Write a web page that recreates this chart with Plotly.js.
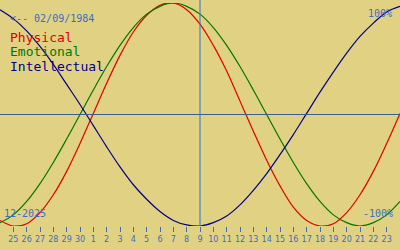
<!DOCTYPE html>
<html>
<head>
<meta charset="utf-8">
<script src="https://cdn.plot.ly/plotly-3.0.1.min.js"></script>
<style>
html,body{margin:0;padding:0;background:#e0d282;}
#chart{width:400px;height:250px;}
</style>
</head>
<body>
<div id="chart"></div>
<script>
// day offsets (0 = first labelled tick "25")
const dayIndex = [-1,0,1,2,3,4,5,6,7,8,9,10,11,12,13,14,15,16,17,18,19,20,21,22,23,24,25,26,27,28,29];
const tickLabels = ['25','26','27','28','29','30','1','2','3','4','5','6','7','8','9','10','11','12','13','14','15','16','17','18','19','20','21','22','23'];
const physical = [-0.95,-1.00,-0.98,-0.88,-0.72,-0.51,-0.26,0.01,0.28,0.53,0.74,0.89,0.98,1.00,0.94,0.81,0.62,0.39,0.12,-0.15,-0.41,-0.64,-0.83,-0.95,-1.00,-0.98,-0.88,-0.72,-0.51,-0.26,0.01];
const emotional = [-0.97,-0.90,-0.78,-0.62,-0.43,-0.22,0.00,0.22,0.43,0.62,0.78,0.90,0.97,1.00,0.97,0.90,0.78,0.62,0.43,0.22,0.00,-0.22,-0.43,-0.62,-0.78,-0.90,-0.97,-1.00,-0.97,-0.90,-0.78];
const intellectual = [0.94,0.86,0.75,0.61,0.45,0.27,0.09,-0.10,-0.29,-0.47,-0.63,-0.76,-0.87,-0.95,-0.99,-1.00,-0.97,-0.91,-0.81,-0.68,-0.53,-0.36,-0.18,0.01,0.20,0.38,0.55,0.70,0.82,0.92,0.97];
const seriesNames = ['Physical','Emotional','Intellectual'];
const seriesColors = ['#e00000','#007800','#00008c'];
const todayIndex = 14;
const birthText = '<-- 02/09/1984';
const monthText = '12-2025';

const blue = '#3a6ec4';
const mono = 'DejaVu Sans Mono, monospace';
const traces = [physical, emotional, intellectual].map((v, i) => ({
  x: dayIndex, y: v, type: 'scatter', mode: 'lines', name: seriesNames[i],
  line: {color: seriesColors[i], width: 1.2, shape: 'spline', smoothing: 1},
  hoverinfo: 'skip'
}));

const legendY = [0.846, 0.781, 0.716];
const annotations = seriesNames.map((n, i) => ({
  text: n, xref: 'paper', yref: 'paper', x: 0.02, y: legendY[i],
  xanchor: 'left', yanchor: 'middle', showarrow: false,
  font: {family: mono, size: 13, color: seriesColors[i]}
}));
annotations.push(
  {text: birthText.replace('<','&lt;'), xref:'paper', yref:'paper', x:0.02, y:0.930, xanchor:'left', yanchor:'middle', showarrow:false, font:{family:mono,size:10,color:blue}},
  {text: '100%', xref:'paper', yref:'paper', x:0.985, y:0.953, xanchor:'right', yanchor:'middle', showarrow:false, font:{family:mono,size:10,color:blue}},
  {text: '-100%', xref:'paper', yref:'paper', x:0.988, y:0.056, xanchor:'right', yanchor:'middle', showarrow:false, font:{family:mono,size:10,color:blue}},
  {text: monthText, xref:'paper', yref:'paper', x:0.005, y:0.056, xanchor:'left', yanchor:'middle', showarrow:false, font:{family:mono,size:10,color:blue}}
);

const layout = {
  width: 400, height: 250,
  margin: {l: 0, r: 0, t: 3, b: 24, pad: 0},
  paper_bgcolor: '#e0d282', plot_bgcolor: '#e0d282',
  showlegend: false,
  xaxis: {
    range: [-1, 29], tickvals: dayIndex.slice(1, 30), ticktext: tickLabels,
    showgrid: false, zeroline: false, showline: false,
    ticks: 'outside', ticklen: 5, tickwidth: 1, tickcolor: blue,
    tickfont: {family: 'DejaVu Sans, sans-serif', size: 8, color: blue},
    fixedrange: true
  },
  yaxis: {range: [-1, 1], visible: false, showgrid: false, zeroline: false, fixedrange: true},
  shapes: [
    {type: 'line', xref: 'x', yref: 'y', x0: -1, x1: 29, y0: 0, y1: 0, line: {color: '#3a5f98', width: 1}},
    {type: 'line', xref: 'x', yref: 'paper', x0: todayIndex, x1: todayIndex, y0: 0, y1: 1.02, line: {color: '#3070d0', width: 1}}
  ],
  annotations: annotations
};

Plotly.newPlot('chart', traces, layout, {staticPlot: true, displayModeBar: false});
</script>
</body>
</html>
